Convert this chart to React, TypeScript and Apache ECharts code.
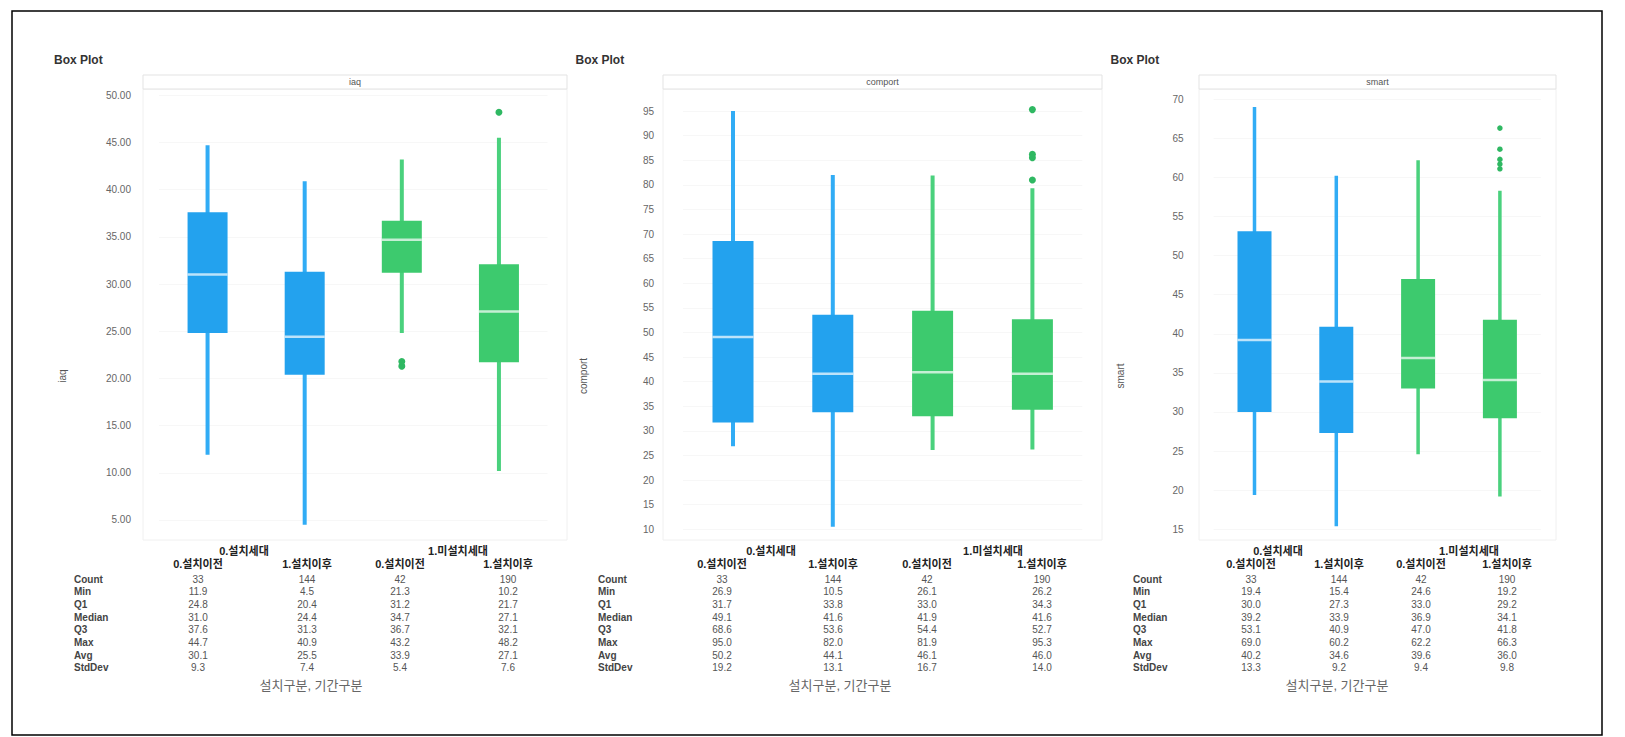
import React, { useEffect, useRef } from "react";
import * as echarts from "echarts";

// ---------------- DATA ----------------
const groupLabels = ["0.설치세대", "1.미설치세대"];
const periodLabels = ["0.설치이전", "1.설치이후", "0.설치이전", "1.설치이후"];
const categories = [
  "0.설치세대 / 0.설치이전",
  "0.설치세대 / 1.설치이후",
  "1.미설치세대 / 0.설치이전",
  "1.미설치세대 / 1.설치이후",
];
const rowLabels = ["Count", "Min", "Q1", "Median", "Q3", "Max", "Avg", "StdDev"];
const xTitle = "설치구분, 기간구분";
const chartTitle = "Box Plot";

// iaq
const iaqCount = [33, 144, 42, 190];
const iaqMin = [11.9, 4.5, 21.3, 10.2];
const iaqQ1 = [24.8, 20.4, 31.2, 21.7];
const iaqMedian = [31.0, 24.4, 34.7, 27.1];
const iaqQ3 = [37.6, 31.3, 36.7, 32.1];
const iaqMax = [44.7, 40.9, 43.2, 48.2];
const iaqAvg = [30.1, 25.5, 33.9, 27.1];
const iaqStd = [9.3, 7.4, 5.4, 7.6];
const iaqWhiskerLow = [11.9, 4.5, 24.8, 10.2];
const iaqWhiskerHigh = [44.7, 40.9, 43.2, 45.5];
const iaqOutliers = [[2, 21.3], [2, 21.8], [3, 48.2]];
const iaqTicks = [5, 10, 15, 20, 25, 30, 35, 40, 45, 50];

// comport
const comportCount = [33, 144, 42, 190];
const comportMin = [26.9, 10.5, 26.1, 26.2];
const comportQ1 = [31.7, 33.8, 33.0, 34.3];
const comportMedian = [49.1, 41.6, 41.9, 41.6];
const comportQ3 = [68.6, 53.6, 54.4, 52.7];
const comportMax = [95.0, 82.0, 81.9, 95.3];
const comportAvg = [50.2, 44.1, 46.1, 46.0];
const comportStd = [19.2, 13.1, 16.7, 14.0];
const comportWhiskerLow = [26.9, 10.5, 26.1, 26.2];
const comportWhiskerHigh = [95.0, 82.0, 81.9, 79.3];
const comportOutliers = [[3, 95.3], [3, 86.2], [3, 85.5], [3, 81.0]];
const comportTicks = [10, 15, 20, 25, 30, 35, 40, 45, 50, 55, 60, 65, 70, 75, 80, 85, 90, 95];

// smart
const smartCount = [33, 144, 42, 190];
const smartMin = [19.4, 15.4, 24.6, 19.2];
const smartQ1 = [30.0, 27.3, 33.0, 29.2];
const smartMedian = [39.2, 33.9, 36.9, 34.1];
const smartQ3 = [53.1, 40.9, 47.0, 41.8];
const smartMax = [69.0, 60.2, 62.2, 66.3];
const smartAvg = [40.2, 34.6, 39.6, 36.0];
const smartStd = [13.3, 9.2, 9.4, 9.8];
const smartWhiskerLow = [19.4, 15.4, 24.6, 19.2];
const smartWhiskerHigh = [69.0, 60.2, 62.2, 58.3];
const smartOutliers = [[3, 66.3], [3, 63.6], [3, 62.3], [3, 61.7], [3, 61.1]];
const smartTicks = [15, 20, 25, 30, 35, 40, 45, 50, 55, 60, 65, 70];

// ---------------- STYLE / LAYOUT ----------------
const FONT = '"Liberation Sans", Arial, "Noto Sans CJK KR", sans-serif';
const BOX_COLORS = ["#23A2EE", "#23A2EE", "#3DCA6E", "#3DCA6E"];
const WHISKER_COLORS = ["#31ACF5", "#31ACF5", "#4AD17D", "#4AD17D"];
const OUTLIER_COLOR = "#2FB862";
const PLOT_TOP = 89;
const PLOT_BOTTOM = 540;

const layouts = [
  { plotX1: 143, plotX2: 567, gridLeft: 159, gridWidth: 388.5, yMin: 2.88, yMax: 50.66, boxW: 40, whW: 4, labelMargin: 28, titleX: 54, yNameX: 62, rowX: 74, colX: [198, 307, 400, 508], groupX: [244, 458], xTitleX: 311, dot: 7, decimals: 2 },
  { plotX1: 663, plotX2: 1102, gridLeft: 683.1, gridWidth: 399.2, yMin: 7.83, yMax: 99.49, boxW: 41, whW: 4, labelMargin: 29, titleX: 575.5, yNameX: 583, rowX: 598, colX: [722, 833, 927, 1042], groupX: [771, 993], xTitleX: 840, dot: 7, decimals: 0 },
  { plotX1: 1199, plotX2: 1556, gridLeft: 1213.6, gridWidth: 327.2, yMin: 13.63, yMax: 71.3, boxW: 34, whW: 3.5, labelMargin: 30, titleX: 1110.5, yNameX: 1120, rowX: 1133, colX: [1251, 1339, 1421, 1507], groupX: [1278, 1469], xTitleX: 1337, dot: 5.5, decimals: 0 },
];

const panels = [
  { name: "iaq", count: iaqCount, min: iaqMin, q1: iaqQ1, median: iaqMedian, q3: iaqQ3, max: iaqMax, avg: iaqAvg, std: iaqStd, wl: iaqWhiskerLow, wh: iaqWhiskerHigh, outliers: iaqOutliers, ticks: iaqTicks },
  { name: "comport", count: comportCount, min: comportMin, q1: comportQ1, median: comportMedian, q3: comportQ3, max: comportMax, avg: comportAvg, std: comportStd, wl: comportWhiskerLow, wh: comportWhiskerHigh, outliers: comportOutliers, ticks: comportTicks },
  { name: "smart", count: smartCount, min: smartMin, q1: smartQ1, median: smartMedian, q3: smartQ3, max: smartMax, avg: smartAvg, std: smartStd, wl: smartWhiskerLow, wh: smartWhiskerHigh, outliers: smartOutliers, ticks: smartTicks },
];

function txt(text: string, x: number, y: number, opts: any = {}) {
  const align = opts.align || "left";
  return {
    type: "text",
    x,
    y,
    rotation: opts.rotation || 0,
    silent: true,
    z: 10,
    style: {
      text,
      fill: opts.color || "#333",
      fontSize: opts.size || 10,
      fontWeight: opts.weight || "normal",
      fontFamily: FONT,
      textAlign: align,
      align: align,
      textVerticalAlign: "middle",
      verticalAlign: "middle",
    },
  };
}

function buildOption() {
  const grids: any[] = [];
  const xAxes: any[] = [];
  const yAxes: any[] = [];
  const series: any[] = [];
  const graphics: any[] = [];

  // outer frame
  graphics.push({
    type: "rect",
    shape: { x: 12, y: 11, width: 1590, height: 724 },
    style: { fill: "none", stroke: "#000", lineWidth: 1.5 },
    silent: true,
    z: 0,
  });

  panels.forEach((p, pi) => {
    const L = layouts[pi];
    grids.push({
      left: L.gridLeft,
      width: L.gridWidth,
      top: PLOT_TOP,
      height: PLOT_BOTTOM - PLOT_TOP,
      containLabel: false,
      outerBoundsMode: "none",
    });
    xAxes.push({
      type: "category",
      gridIndex: pi,
      data: categories,
      show: false,
    });
    yAxes.push({
      type: "value",
      gridIndex: pi,
      min: L.yMin,
      max: L.yMax,
      axisLine: { show: false },
      axisTick: { show: false },
      splitLine: { show: false },
      axisLabel: {
        customValues: p.ticks,
        margin: L.labelMargin,
        color: "#666",
        fontSize: 10,
        fontFamily: FONT,
        formatter: (v: number) => v.toFixed(L.decimals),
      },
    });

    const boxData = categories.map((_, i) => [i, p.wl[i], p.q1[i], p.median[i], p.q3[i], p.wh[i]]);
    series.push({
      type: "custom",
      xAxisIndex: pi,
      yAxisIndex: pi,
      encode: { x: 0, y: [1, 2, 3, 4, 5] },
      data: boxData,
      z: 3,
      renderItem: (params: any, api: any) => {
        const idx = api.value(0);
        const lo = api.coord([idx, api.value(1)]);
        const q1 = api.coord([idx, api.value(2)]);
        const med = api.coord([idx, api.value(3)]);
        const q3 = api.coord([idx, api.value(4)]);
        const hi = api.coord([idx, api.value(5)]);
        const x = lo[0];
        const bw = L.boxW;
        return {
          type: "group",
          children: [
            {
              type: "line",
              shape: { x1: x, y1: hi[1], x2: x, y2: lo[1] },
              style: { stroke: WHISKER_COLORS[idx], lineWidth: L.whW },
            },
            {
              type: "rect",
              shape: { x: x - bw / 2, y: q3[1], width: bw, height: q1[1] - q3[1] },
              style: { fill: BOX_COLORS[idx] },
            },
            {
              type: "line",
              shape: { x1: x - bw / 2, y1: med[1], x2: x + bw / 2, y2: med[1] },
              style: { stroke: "rgba(255,255,255,0.7)", lineWidth: 2.5 },
            },
          ],
        };
      },
    });
    series.push({
      type: "scatter",
      xAxisIndex: pi,
      yAxisIndex: pi,
      data: p.outliers,
      symbol: "circle",
      symbolSize: L.dot,
      itemStyle: { color: OUTLIER_COLOR, opacity: 1 },
      z: 4,
      markLine: {
        silent: true,
        symbol: "none",
        label: { show: false },
        lineStyle: { color: "#f7f7f7", type: "solid", width: 1 },
        z: 1,
        data: p.ticks.map((t) => ({ yAxis: t })),
      },
    });

    // plot frame & facet strip
    const w = L.plotX2 - L.plotX1;
    graphics.push({
      type: "rect",
      shape: { x: L.plotX1, y: PLOT_TOP, width: w, height: PLOT_BOTTOM - PLOT_TOP },
      style: { fill: "none", stroke: "#f0f0f0", lineWidth: 1 },
      silent: true,
      z: 0,
    });
    graphics.push({
      type: "rect",
      shape: { x: L.plotX1, y: 75, width: w, height: 14 },
      style: { fill: "#fff", stroke: "#e3e3e3", lineWidth: 1 },
      silent: true,
      z: 0,
    });
    graphics.push(txt(p.name, (L.plotX1 + L.plotX2) / 2, 82, { align: "center", size: 9, color: "#555" }));

    // title
    graphics.push(txt(chartTitle, L.titleX, 60, { size: 12, weight: "bold", color: "#333" }));
    // y-axis name
    graphics.push(txt(p.name, L.yNameX, 376, { align: "center", size: 10, color: "#555", rotation: Math.PI / 2 }));

    // table headers
    groupLabels.forEach((g, gi) => {
      graphics.push(txt(g, L.groupX[gi], 551, { align: "center", size: 11, weight: "bold", color: "#222" }));
    });
    periodLabels.forEach((s, si) => {
      graphics.push(txt(s, L.colX[si], 564, { align: "center", size: 11, weight: "bold", color: "#222" }));
    });
    const rows = [p.count, p.min, p.q1, p.median, p.q3, p.max, p.avg, p.std];
    rowLabels.forEach((r, ri) => {
      const y = 579 + ri * 12.7;
      graphics.push(txt(r, L.rowX, y, { size: 10, weight: "bold", color: "#444" }));
      rows[ri].forEach((v: number, ci: number) => {
        graphics.push(
          txt(ri === 0 ? String(v) : v.toFixed(1), L.colX[ci], y, { align: "center", size: 10, color: "#555" })
        );
      });
    });
    graphics.push(txt(xTitle, L.xTitleX, 685, { align: "center", size: 13, color: "#666" }));
  });

  return {
    animation: false,
    backgroundColor: "#ffffff",
    grid: grids,
    xAxis: xAxes,
    yAxis: yAxes,
    series,
    graphic: { elements: graphics },
  };
}

export default function App() {
  const ref = useRef<HTMLDivElement>(null);
  useEffect(() => {
    if (!ref.current) return;
    const chart = echarts.init(ref.current, null, { renderer: "svg" });
    chart.setOption(buildOption() as any);
    return () => chart.dispose();
  }, []);
  return (
    <div
      ref={ref}
      style={{ position: "fixed", left: 0, top: 0, width: 1625, height: 737, background: "#fff" }}
    />
  );
}
